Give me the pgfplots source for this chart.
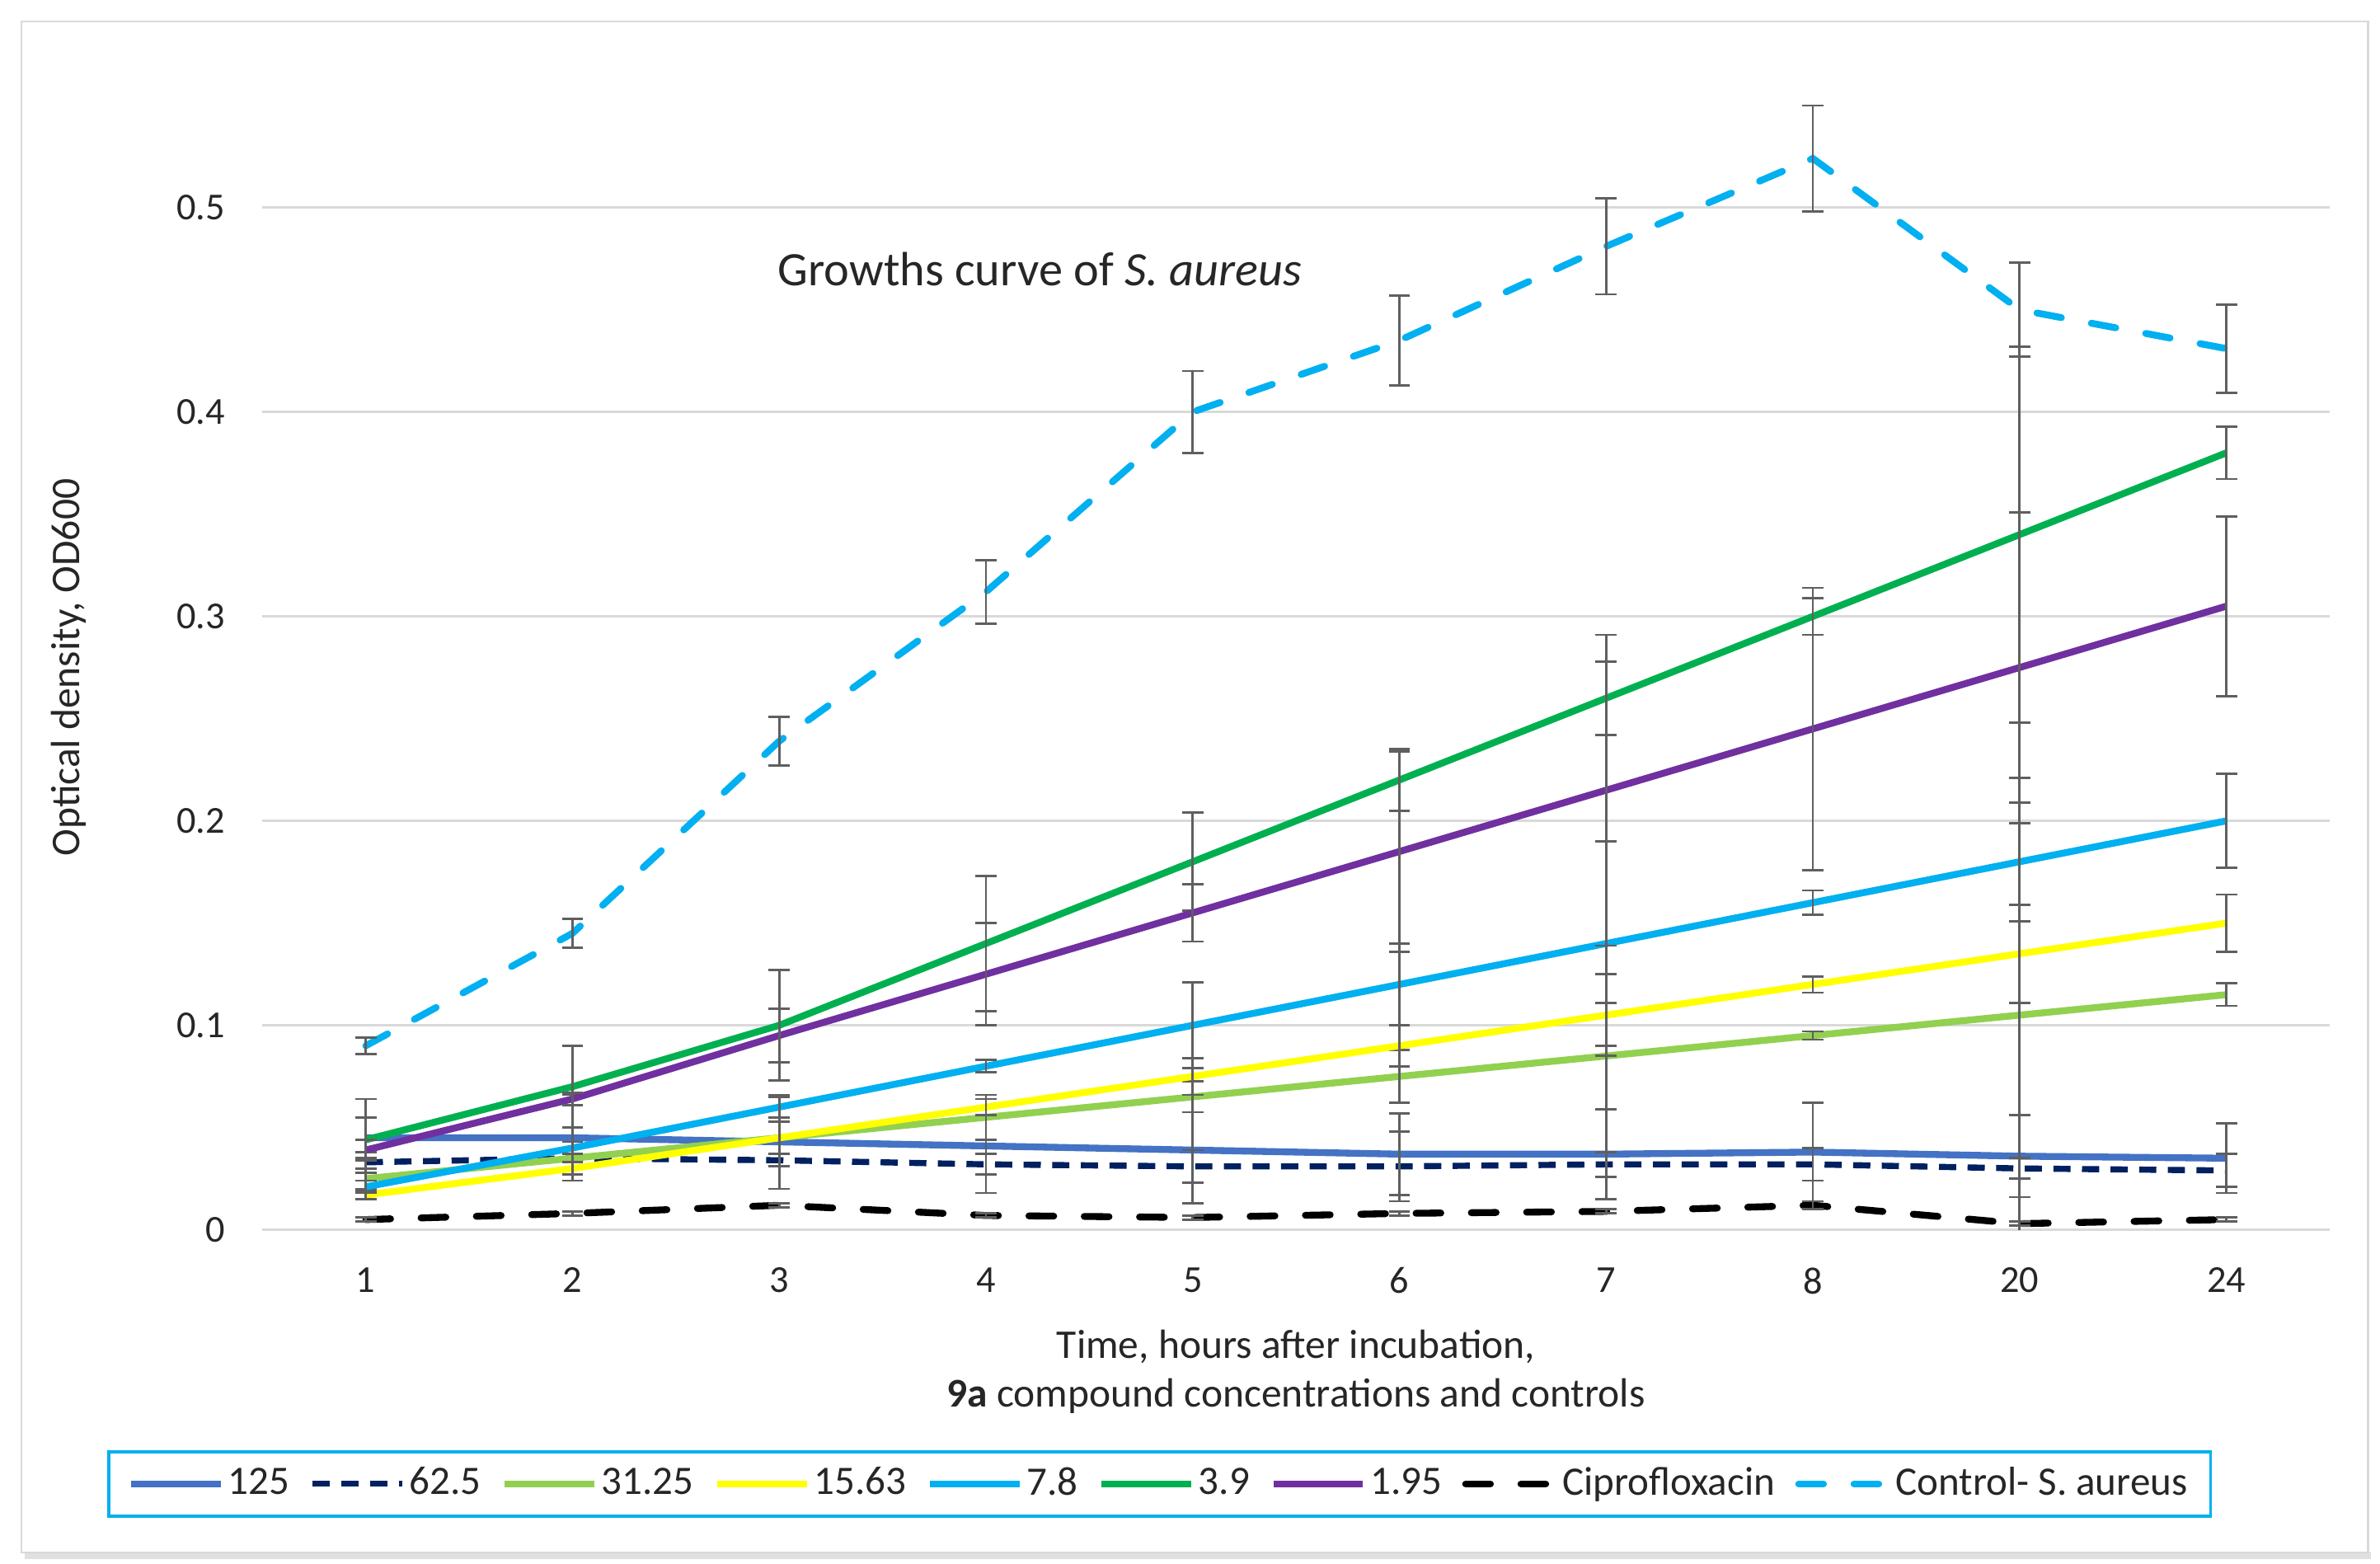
\documentclass[border=0pt]{standalone}
\usepackage{pgfplots}
\pgfplotsset{compat=1.18}
\usepackage{pgfplotstable}
\usepackage{fontspec}
\setmainfont{Carlito}
\definecolor{c125}{HTML}{4472C4}
\definecolor{c625}{HTML}{002060}
\definecolor{c3125}{HTML}{92D050}
\definecolor{c1563}{HTML}{FFFF00}
\definecolor{c78}{HTML}{00B0F0}
\definecolor{c39}{HTML}{00B050}
\definecolor{c195}{HTML}{7030A0}
\definecolor{errgray}{HTML}{5F5F5F}
\definecolor{gridc}{HTML}{D9D9D9}
\definecolor{txt}{HTML}{262626}

\pgfplotstableread{
x y e
1 0.045 0.010
2 0.045 0.021
3 0.043 0.023
4 0.041 0.023
5 0.039 0.026
6 0.037 0.020
7 0.037 0.022
8 0.038 0.024
9 0.036 0.020
10 0.035 0.017
}\tA
\pgfplotstableread{
x y e
1 0.033 0.005
2 0.035 0.002
3 0.034 0.003
4 0.032 0.005
5 0.031 0.008
6 0.031 0.017
7 0.032 0.006
8 0.032 0.008
9 0.030 0.005
10 0.029 0.008
}\tB
\pgfplotstableread{
x y e
1 0.025 0.005
2 0.035 0.002
3 0.045 0.008
4 0.055 0.011
5 0.065 0.0075
6 0.075 0.013
7 0.085 0.026
8 0.095 0.002
9 0.105 0.116
10 0.115 0.0055
}\tC
\pgfplotstableread{
x y e
1 0.017 0.002
2 0.030 0.003
3 0.045 0.008
4 0.060 0.004
5 0.075 0.009
6 0.090 0.010
7 0.105 0.020
8 0.120 0.004
9 0.135 0.024
10 0.150 0.014
}\tD
\pgfplotstableread{
x y e
1 0.021 0.003
2 0.040 0.003
3 0.060 0.005
4 0.080 0.003
5 0.100 0.021
6 0.120 0.020
7 0.140 0.050
8 0.160 0.006
9 0.180 0.029
10 0.200 0.023
}\tE
\pgfplotstableread{
x y e
1 0.044 0.020
2 0.070 0.020
3 0.100 0.027
4 0.140 0.033
5 0.180 0.024
6 0.220 0.015
7 0.260 0.018
8 0.300 0.009
9 0.340 0.092
10 0.380 0.0128
}\tF
\pgfplotstableread{
x y e
1 0.039 0.005
2 0.064 0.003
3 0.095 0.013
4 0.125 0.025
5 0.155 0.014
6 0.185 0.049
7 0.215 0.076
8 0.245 0.069
9 0.275 0.076
10 0.305 0.044
}\tG
\pgfplotstableread{
x y e
1 0.005 0.001
2 0.008 0.001
3 0.012 0.001
4 0.007 0.001
5 0.006 0.001
6 0.008 0.001
7 0.009 0.001
8 0.012 0.002
9 0.003 0.001
10 0.005 0.001
}\tH
\pgfplotstableread{
x y e
1 0.090 0.004
2 0.145 0.007
3 0.239 0.012
4 0.312 0.0155
5 0.400 0.020
6 0.435 0.022
7 0.481 0.0235
8 0.524 0.026
9 0.450 0.023
10 0.431 0.0215
}\tI

\begin{document}
\begin{tikzpicture}
\path[use as bounding box] (0,0) rectangle (624pt,410pt);
\fill[white] (0,0) rectangle (624pt,410pt);
\fill[black!12] (6.4pt,1.2pt) rectangle (621.6pt,3.2pt);
\draw[black!15, line width=0.6pt] (5.6pt,3pt) rectangle (620.8pt,404.4pt);
\begin{axis}[
  at={(68.8pt,87.6pt)}, anchor=south west,
  width=542pt, height=294.8pt, scale only axis,
  xmin=0.5, xmax=10.5, ymin=0, ymax=0.55,
  xtick={1,2,3,4,5,6,7,8,9,10},
  xticklabels={1,2,3,4,5,6,7,8,20,24},
  ytick={0,0.1,0.2,0.3,0.4,0.5},
  ymajorgrids, grid style={draw=gridc, line width=0.75pt},
  axis line style={draw=none},
  major tick length=0pt, tick style={draw=none},
  /pgf/number format/assume math mode=true,
  ticklabel style={font=\fontsize{10}{12}\selectfont, text=txt},
  xticklabel style={yshift=-6.4pt},
  yticklabel style={xshift=-6.3pt},
  error bars/y dir=both,
  error bars/y explicit,
  error bars/error bar style={draw=errgray, line width=0.6pt, solid},
  error bars/error mark options={rotate=90, mark size=2.8pt, draw=errgray, line width=0.6pt, solid},
  legend image code/.code={\draw[#1] (0pt,0pt) -- (23.5pt,0pt);},
  legend columns=9,
  legend style={at={(0.434,-0.2259)}, anchor=center,
    draw=c78, line width=0.8pt, inner xsep=5pt, inner ysep=3pt,
    font=\fontsize{10.6}{13}\selectfont, text=txt,
    nodes={inner sep=1pt},
    /tikz/every even column/.append style={column sep=4.3pt}},
  legend cell align=left,
]
\addplot[c125, line width=1.8pt, no marks, line join=round] table[x=x,y=y,y error=e]{\tA};
\addlegendentry{125}
\addplot[c625, line width=1.6pt, no marks, dash pattern=on 4.5pt off 3pt] table[x=x,y=y,y error=e]{\tB};
\addlegendentry{62.5}
\addplot[c3125, line width=1.8pt, no marks, line join=round] table[x=x,y=y,y error=e]{\tC};
\addlegendentry{31.25}
\addplot[c1563, line width=1.8pt, no marks, line join=round] table[x=x,y=y,y error=e]{\tD};
\addlegendentry{15.63}
\addplot[c78, line width=1.8pt, no marks, line join=round] table[x=x,y=y,y error=e]{\tE};
\addlegendentry{7.8}
\addplot[c39, line width=1.8pt, no marks, line join=round] table[x=x,y=y,y error=e]{\tF};
\addlegendentry{3.9}
\addplot[c195, line width=1.8pt, no marks, line join=round] table[x=x,y=y,y error=e]{\tG};
\addlegendentry{1.95}
\addplot[black, line width=1.8pt, no marks, line cap=round, dash pattern=on 6.5pt off 8pt] table[x=x,y=y,y error=e]{\tH};
\addlegendentry{Ciprofloxacin}
\addplot[c78, line width=1.8pt, no marks, line cap=round, dash pattern=on 6.5pt off 8pt] table[x=x,y=y,y error=e]{\tI};
\addlegendentry{Control- S. aureus}
\node[font=\fontsize{12.6}{15}\selectfont, text=txt] at (axis cs:4.26,0.47) {Growths curve of \textit{S. aureus}};
\end{axis}
\node[rotate=90, font=\fontsize{10.7}{13}\selectfont, text=txt] at (18pt,235pt) {Optical density, OD600};
\node[align=center, font=\fontsize{10.7}{12.8}\selectfont, text=txt] at (339.8pt,50.4pt) {Time, hours after incubation,\\\textbf{9a} compound concentrations and controls};
\end{tikzpicture}
\end{document}
